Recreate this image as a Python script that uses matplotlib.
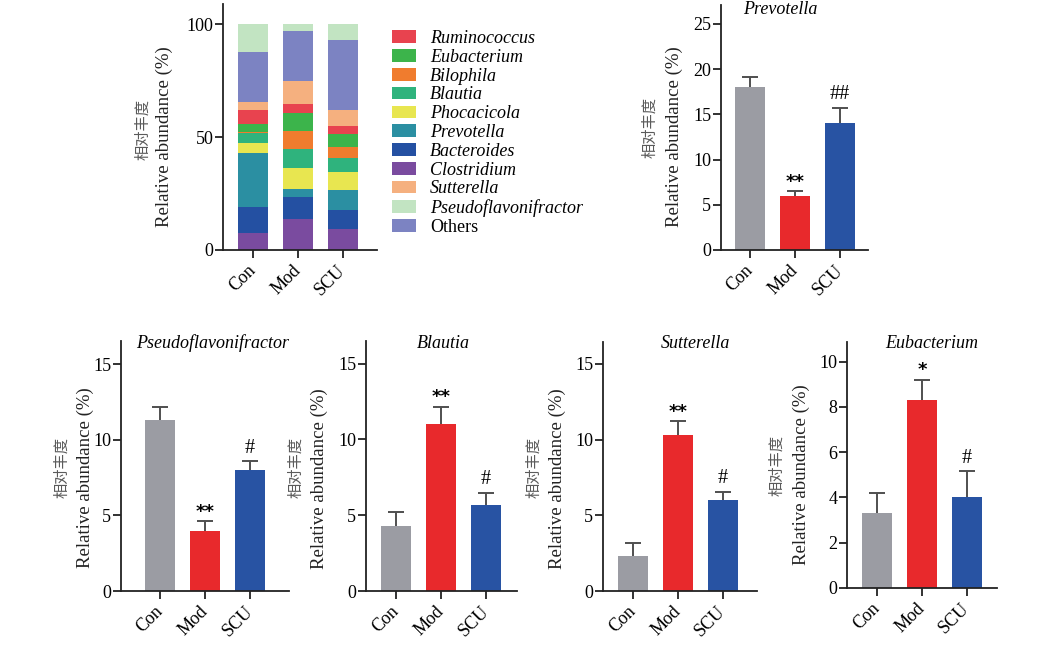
import matplotlib
matplotlib.use("Agg")
import matplotlib.pyplot as plt
from matplotlib.patches import Patch

plt.rcParams['font.family'] = ['Liberation Serif', 'Noto Sans CJK SC']
plt.rcParams['font.size'] = 13

W, H = 1052, 649

groups = ["Con", "Mod", "SCU"]

# stacked composition (%), order bottom -> top, values for Con / Mod / SCU
taxa = ["Clostridium", "Bacteroides", "Prevotella", "Phocacicola", "Blautia",
        "Bilophila", "Eubacterium", "Ruminococcus", "Sutterella", "Others",
        "Pseudoflavonifractor"]
clostridium = [7.7, 13.6, 9.4]
bacteroides = [11.2, 10.0, 8.4]
prevotella = [23.9, 3.2, 8.8]
phocacicola = [4.7, 9.7, 8.0]
blautia = [4.1, 8.1, 6.2]
bilophila = [0.8, 8.0, 4.7]
eubacterium = [3.5, 8.1, 6.0]
ruminococcus = [6.0, 4.1, 3.2]
sutterella = [3.8, 9.9, 7.1]
others = [22.0, 22.1, 31.0]
pseudoflavonifractor = [12.3, 3.2, 7.2]
stack_values = [clostridium, bacteroides, prevotella, phocacicola, blautia,
                bilophila, eubacterium, ruminococcus, sutterella, others,
                pseudoflavonifractor]
legend_order = ["Ruminococcus", "Eubacterium", "Bilophila", "Blautia", "Phocacicola",
                "Prevotella", "Bacteroides", "Clostridium", "Sutterella",
                "Pseudoflavonifractor", "Others"]

# single genus panels: mean and upper error (SEM)
prevotella_mean = [18.0, 5.95, 14.0]
prevotella_err = [1.15, 0.55, 1.75]
prevotella_sig = ["", "**", "##"]

pseudo_mean = [11.3, 4.0, 8.0]
pseudo_err = [0.9, 0.6, 0.57]
pseudo_sig = ["", "**", "#"]

blautia_mean = [4.3, 11.0, 5.65]
blautia_err = [0.9, 1.15, 0.85]
blautia_sig = ["", "**", "#"]

sutterella_mean = [2.3, 10.3, 6.0]
sutterella_err = [0.9, 0.9, 0.57]
sutterella_sig = ["", "**", "#"]

eubacterium_mean = [3.3, 8.3, 4.0]
eubacterium_err = [0.9, 0.9, 1.15]
eubacterium_sig = ["", "*", "#"]

taxon_colors = {
    "Ruminococcus": "#e8434f",
    "Eubacterium": "#3cb44b",
    "Bilophila": "#f07c2e",
    "Blautia": "#2fb37d",
    "Phocacicola": "#e8e650",
    "Prevotella": "#2b8fa2",
    "Bacteroides": "#2450a2",
    "Clostridium": "#7a4b9f",
    "Sutterella": "#f5b07f",
    "Pseudoflavonifractor": "#c2e4c2",
    "Others": "#7c83c2",
}
bar_colors = ["#9b9ca3", "#e8292c", "#2853a3"]
err_color = "#4f4f4f"
axis_color = "#222222"


def px_axes(fig, left, top, right, bottom):
    return fig.add_axes([left / W, 1 - bottom / H, (right - left) / W, (bottom - top) / H])


def style_axes(ax):
    for s in ["top", "right"]:
        ax.spines[s].set_visible(False)
    for s in ["left", "bottom"]:
        ax.spines[s].set_linewidth(1.3)
        ax.spines[s].set_color(axis_color)
    ax.tick_params(direction="out", length=6, width=1.3, color=axis_color,
                   labelsize=13, pad=1)
    ax.set_xticks(range(len(groups)))
    ax.set_xticklabels(groups, rotation=45, ha="right", va="center",
                       rotation_mode="anchor")
    ax.tick_params(axis="x", pad=7)


def ylabels(fig, cn_xy, en_xy):
    fig.text(cn_xy[0] / W, 1 - cn_xy[1] / H, "相对丰度", rotation=90,
             ha="center", va="center", fontsize=11, color="#5a5a5a",
             family="Noto Sans CJK SC")
    fig.text(en_xy[0] / W, 1 - en_xy[1] / H, "Relative abundance (%)", rotation=90,
             ha="center", va="center", fontsize=13.5, color="#222222")


fig = plt.figure(figsize=(W / 100, H / 100), dpi=100)

# ---- stacked composition ----
ax = px_axes(fig, 223, 3.7, 377, 250)
bottom = [0, 0, 0]
handles = {}
for name, vals in zip(taxa, stack_values):
    ax.bar(range(3), vals, bottom=bottom, width=0.67,
           color=taxon_colors[name], linewidth=0)
    handles[name] = Patch(facecolor=taxon_colors[name])
    bottom = [b + v for b, v in zip(bottom, vals)]
ax.set_xlim(-0.667, 2.76)
ax.set_ylim(0, 109)
ax.set_yticks([0, 50, 100])
style_axes(ax)
ylabels(fig, (143, 130), (164, 137))

leg = fig.legend([handles[n] for n in legend_order], legend_order,
                 loc="upper left", bbox_to_anchor=(392 / W, 1 - 30 / H),
                 frameon=False, fontsize=13, handlelength=1.35, handleheight=0.7,
                 handletextpad=0.75, labelspacing=0.1, borderpad=0,
                 borderaxespad=0)
for t in leg.get_texts():
    if t.get_text() != "Others":
        t.set_style("italic")

# ---- single genus panels ----
panels = [
    # box (left, top, right, bottom), xlim left, xlim right, ylim top, yticks,
    # mean, err, sig, title, title xy, cn label xy, en label xy
    ((721, 5, 868, 250), -0.644, 2.62, 27.1, [0, 5, 10, 15, 20, 25],
     prevotella_mean, prevotella_err, prevotella_sig, "Prevotella",
     (780, 9), (650, 128), (674, 137)),
    ((121, 341, 289, 591), -0.87, 2.87, 16.54, [0, 5, 10, 15],
     pseudo_mean, pseudo_err, pseudo_sig, "Pseudoflavonifractor",
     (213, 343), (62, 467), (85, 478)),
    ((366, 341, 517, 591), -0.667, 2.69, 16.5, [0, 5, 10, 15],
     blautia_mean, blautia_err, blautia_sig, "Blautia",
     (443, 344), (296, 467), (319, 479)),
    ((603, 342, 757, 591), -0.667, 2.76, 16.45, [0, 5, 10, 15],
     sutterella_mean, sutterella_err, sutterella_sig, "Sutterella",
     (695, 344), (534, 467), (557, 479)),
    ((847, 342, 997, 588), -0.667, 2.67, 10.87, [0, 2, 4, 6, 8, 10],
     eubacterium_mean, eubacterium_err, eubacterium_sig, "Eubacterium",
     (932, 343), (777, 465), (801, 475)),
]

for (box, x0, x1, ytop, yticks, mean, err, sig, title, title_xy,
     cn_xy, en_xy) in panels:
    ax = px_axes(fig, *box)
    eb = ax.errorbar(range(3), mean, yerr=[[0, 0, 0], err], fmt="none",
                     ecolor=err_color, elinewidth=1.4, capsize=5.5, capthick=1.4,
                     zorder=1)
    # only the upper cap is shown
    eb[1][0].set_visible(False)
    ax.bar(range(3), mean, width=0.67, color=bar_colors, linewidth=0, zorder=2)
    for i, s in enumerate(sig):
        if not s:
            continue
        if "*" in s:
            ax.annotate(s, (i, mean[i] + err[i]), xytext=(0, 9.5),
                        textcoords="offset pixels", ha="center", va="center",
                        fontsize=13, fontweight="bold", family="DejaVu Sans")
        else:
            ax.annotate(s, (i, mean[i] + err[i]), xytext=(0, 13),
                        textcoords="offset pixels", ha="center", va="center",
                        fontsize=14.5)
    ax.set_xlim(x0, x1)
    ax.set_ylim(0, ytop)
    ax.set_yticks(yticks)
    style_axes(ax)
    fig.text(title_xy[0] / W, 1 - title_xy[1] / H, title, ha="center",
             va="center", fontsize=13, style="italic")
    ylabels(fig, cn_xy, en_xy)

fig.savefig("out.png", dpi=100)
